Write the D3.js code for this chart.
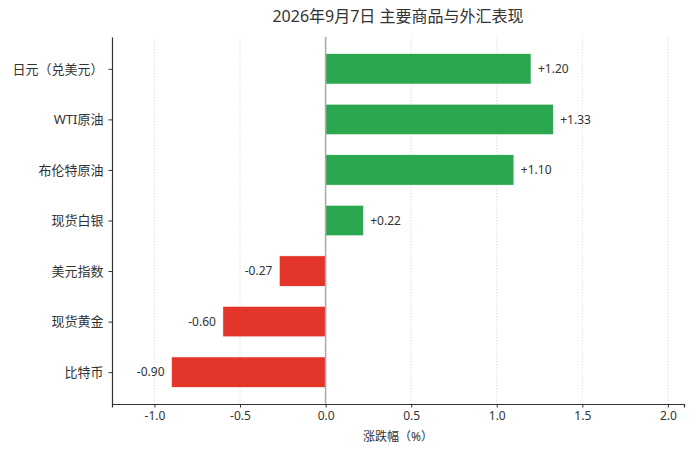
<!DOCTYPE html>
<html lang="zh">
<head>
<meta charset="UTF-8">
<title>主要商品与外汇表现</title>
<script src="https://d3js.org/d3.v7.min.js"></script>
<style>
  body { margin: 0; background: #fff; }
  text { font-family: "Noto Sans", "Noto Sans CJK SC", sans-serif; fill: #333; }
</style>
</head>
<body>
<script>
var categories = ["日元（兑美元）", "WTI原油", "布伦特原油", "现货白银", "美元指数", "现货黄金", "比特币"];
var changes = [1.20, 1.33, 1.10, 0.22, -0.27, -0.60, -0.90];
var xTicks = [-1.0, -0.5, 0.0, 0.5, 1.0, 1.5, 2.0];
var title = "2026年9月7日 主要商品与外汇表现";
var xLabel = "涨跌幅（%）";

var width = 696, height = 454;
var margin = { top: 37, right: 12, bottom: 50, left: 112 };
var innerW = width - margin.left - margin.right;
var innerH = height - margin.top - margin.bottom;

var svg = d3.select("body").append("svg")
    .attr("width", width)
    .attr("height", height);

var x = d3.scaleLinear()
    .domain([-1.248, 2.094])
    .range([0, innerW]);

// index scale with matplotlib-like margins
var y = d3.scaleLinear()
    .domain([-0.63, categories.length - 1 + 0.63])
    .range([0, innerH]);

var barH = y(0.6) - y(0);

var g = svg.append("g")
    .attr("transform", "translate(" + margin.left + "," + margin.top + ")");

// dotted vertical grid
g.selectAll(".grid")
    .data(xTicks)
    .enter().append("line")
    .attr("x1", function (d) { return x(d); })
    .attr("x2", function (d) { return x(d); })
    .attr("y1", 0)
    .attr("y2", innerH)
    .attr("stroke", "#d8d8d8")
    .attr("stroke-width", 0.8)
    .attr("stroke-dasharray", "1.5,1.5");

// bars
g.selectAll(".bar")
    .data(changes)
    .enter().append("rect")
    .attr("x", function (d) { return x(Math.min(0, d)); })
    .attr("y", function (d, i) { return y(i) - barH / 2; })
    .attr("width", function (d) { return Math.abs(x(d) - x(0)); })
    .attr("height", barH)
    .attr("fill", function (d) { return d >= 0 ? "#2ba84f" : "#e4352b"; })
    .attr("stroke", "#fff")
    .attr("stroke-width", 0.5);

// zero line
g.append("line")
    .attr("x1", x(0)).attr("x2", x(0))
    .attr("y1", 0).attr("y2", innerH)
    .attr("stroke", "#aaaaaa")
    .attr("stroke-width", 1.5);

// value labels
g.selectAll(".val")
    .data(changes)
    .enter().append("text")
    .attr("x", function (d) { return d >= 0 ? x(d) + 7 : x(d) - 7; })
    .attr("y", function (d, i) { return y(i); })
    .attr("dy", "0.35em")
    .attr("text-anchor", function (d) { return d >= 0 ? "start" : "end"; })
    .style("font-size", "12px")
    .text(function (d) { return (d >= 0 ? "+" : "") + d.toFixed(2); });

// axes
var xAxis = d3.axisBottom(x)
    .tickValues(xTicks)
    .tickFormat(function (d) { return d.toFixed(1); })
    .tickSize(3.5)
    .tickPadding(4);

var gx = g.append("g")
    .attr("transform", "translate(0," + innerH + ")")
    .call(xAxis);
gx.select(".domain").attr("stroke", "#333").attr("stroke-width", 1.2);
gx.selectAll(".tick line").attr("stroke", "#333");
gx.selectAll(".tick text").style("font-size", "12px").attr("fill", "#333");

var yAxis = d3.axisLeft(y)
    .tickValues(d3.range(categories.length))
    .tickFormat(function (i) { return categories[i]; })
    .tickSize(3.5)
    .tickPadding(5)
    .tickSizeOuter(0);

var gy = g.append("g").call(yAxis);
gy.select(".domain").attr("stroke", "#333").attr("stroke-width", 1.2);
gy.selectAll(".tick line").attr("stroke", "#333");
gy.selectAll(".tick text").style("font-size", "13px").attr("fill", "#333");

// title
svg.append("text")
    .attr("x", margin.left + innerW / 2)
    .attr("y", 22)
    .attr("text-anchor", "middle")
    .style("font-size", "16px")
    .text(title);

// x label
svg.append("text")
    .attr("x", margin.left + innerW / 2)
    .attr("y", 441)
    .attr("text-anchor", "middle")
    .style("font-size", "12px")
    .text(xLabel);
</script>
</body>
</html>
